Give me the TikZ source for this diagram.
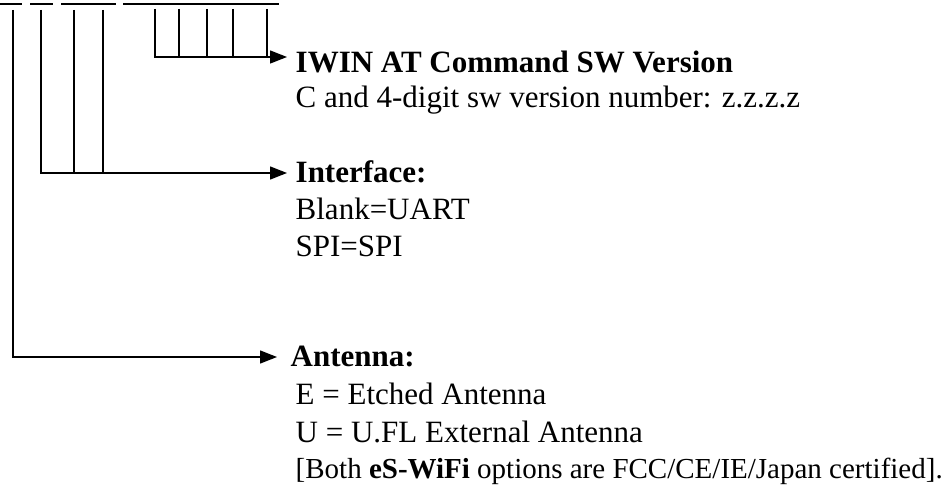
\documentclass[tikz,border=0pt]{standalone}
\usepackage{fontspec}
\setmainfont{Liberation Serif}
\usetikzlibrary{arrows.meta}

\begin{document}
\begin{tikzpicture}[x=1pt, y=-1pt, line width=1.4pt,
	arr/.style={-{Triangle[length=17pt,width=13pt]}},
	txt/.style={anchor=base west, inner sep=0pt, font=\fontsize{31}{36}\selectfont},
	head/.style={txt, font=\fontsize{31}{36}\selectfont\bfseries}]
			%%%%% START %%%%%
			\useasboundingbox (0,0) rectangle (952,486);
			
			% part number fields
			\foreach \a/\b in {0/22, 30/53, 61/116, 123/279}
				\draw[line width=1.6pt] (\a,4) -- (\b,4);
			
			% labels
			\node[head] (vertitle) at (295,73) {IWIN AT Command SW Version};
			\node[txt] (verline) at (295,108) {C and 4-digit sw version number: z.z.z.z};
			
			\node[head] (inttitle) at (295,183) {Interface:};
			\node[txt] (intuart) at (295,220) {Blank=UART};
			\node[txt] (intspi) at (295,256) {SPI=SPI};
			
			\node[head] (anttitle) at (290,366) {Antenna:};
			\node[txt] (antetch) at (295,404) {E = Etched Antenna};
			\node[txt] (antufl) at (295,442) {U = U.FL External Antenna};
			\node[txt, font=\fontsize{29}{36}\selectfont] (antnote) at (295,478)
				{[Both \textbf{eS-WiFi} options are FCC/CE/IE/Japan certified].};
			
			% arrow tips
			\coordinate (vtip) at (287,57);
			\coordinate (itip) at (287,173);
			\coordinate (atip) at (277,357);
			
			\draw[arr] (155,9) |- (vtip);
			\foreach \x in {179,207,233,267}
				\draw (\x,9) -- (\x,57);
			
			\draw[arr] (41,10) |- (itip);
			\foreach \x in {74,103}
				\draw (\x,10) -- (\x,173);
			
			\draw[arr] (13,10) |- (atip);
			%%%%% END %%%%%
\end{tikzpicture}
\end{document}
